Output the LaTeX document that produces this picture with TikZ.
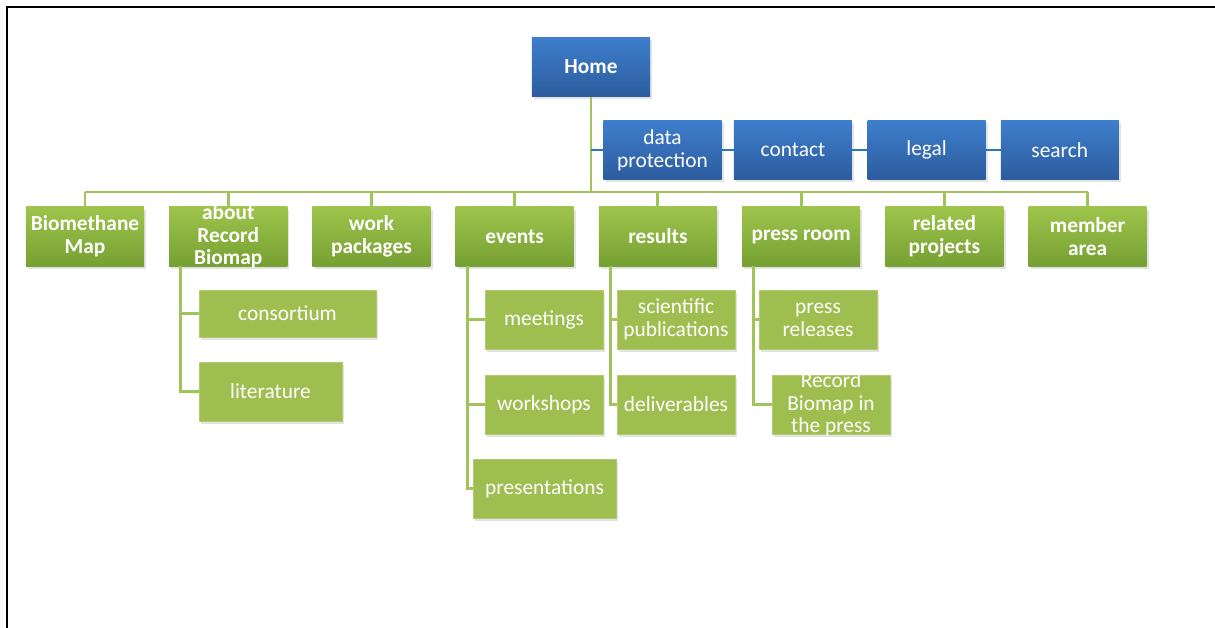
\documentclass[tikz,border=0pt]{standalone}
\usepackage{fontspec}
\setmainfont{Carlito}
\usepackage{tikz}
\usetikzlibrary{positioning,shadows}
\definecolor{blueTop}{RGB}{62,126,204}
\definecolor{blueBot}{RGB}{44,92,158}
\definecolor{greenTop}{RGB}{158,196,76}
\definecolor{greenBot}{RGB}{118,160,51}
\definecolor{childgreen}{RGB}{159,190,80}
\definecolor{linegreen}{RGB}{160,196,90}
\definecolor{lineblue}{RGB}{46,117,192}
\newcommand{\squeezed}[1]{\smash{\raisebox{-4.3pt}{\begin{tabular}{@{}c@{}}#1\end{tabular}}}}
\tikzstyle{box}=[align=center, inner sep=1pt, text=white, font=\fontsize{15.2}{16.3}\selectfont,
  minimum width=2.95cm, minimum height=1.475cm,
  drop shadow={opacity=0.22, shadow xshift=1.5pt, shadow yshift=-2pt}]
\tikzstyle{mainbox}=[box, top color=blueTop, bottom color=blueBot, font=\fontsize{15.2}{16.3}\selectfont\bfseries]
\tikzstyle{metabox}=[box, top color=blueTop, bottom color=blueBot]
\tikzstyle{sectionbox}=[box, top color=greenTop, bottom color=greenBot, font=\fontsize{15.2}{16.3}\selectfont\bfseries]
\tikzstyle{pagebox}=[box, fill=childgreen, draw=childgreen!80!white]
\tikzstyle{connect}=[line width=2.1pt, linegreen]
\tikzstyle{connect blue}=[line width=1.8pt, lineblue]

\begin{document}
\begin{tikzpicture}[
    x=0.025cm, y=-0.025cm,
    node distance=3.58cm,
    on grid]

\useasboundingbox (0,0) rectangle (1215,628);
\draw[line width=1.4pt] (7,628) -- (7,7) -- (1215,7);

\coordinate (bus) at (591,192);

\node[mainbox] (home) at (591,67) {Home};

\node[metabox] (dataprot) at (662.5,150) {data\\protection};
\node[metabox, right=3.26cm of dataprot] (contact) {contact};
\node[metabox, right=3.34cm of contact] (legal) {legal};
\node[metabox, right=3.33cm of legal] (search) {search};

\node[sectionbox] (biomap) at (85,236.5) {Biomethane\\Map};
\node[sectionbox, right=of biomap] (about) {\squeezed{about\\Record\\Biomap}};
\node[sectionbox, right=of about] (workpack) {work\\packages};
\node[sectionbox, right=of workpack] (events) {events};
\node[sectionbox, right=of events] (results) {results};
\node[sectionbox, right=of results] (pressroom) {press room};
\node[sectionbox, right=of pressroom] (related) {related\\projects};
\node[sectionbox, right=of related] (member) {member\\area};

\node[pagebox, minimum width=4.425cm, minimum height=1.175cm] (consort) at (287.5,313.5) {consortium};
\node[pagebox, minimum width=3.575cm] (lit) at (270.5,391.5) {literature};

\node[pagebox] (meet) at (544,319.5) {meetings};
\node[pagebox] (work) at (544,404.5) {workshops};
\node[pagebox, minimum width=3.575cm] (present) at (544.5,488.5) {presentations};

\node[pagebox] (scipub) at (676,319.5) {scientific\\publications};
\node[pagebox] (deliv) at (676,404.5) {deliverables};

\node[pagebox] (pressrel) at (818,319.5) {press\\releases};
\node[pagebox] (inpress) at (831,404.5) {\squeezed{Record\\Biomap in\\the press}};

\begin{scope}[connect]
    \draw (home.south) -- (bus);
    \draw (biomap.north |- bus) -- (member.north |- bus);
    \foreach \n in {biomap,about,workpack,events,results,pressroom,related,member}
        \draw (\n.north |- bus) -- (\n.north);

    \draw ([xshift=0.3cm]about.south west) |- (consort.west);
    \draw ([xshift=0.3cm]about.south west) |- (lit.west);
    \draw ([xshift=0.3cm]events.south west) |- (meet.west);
    \draw ([xshift=0.3cm]events.south west) |- (work.west);
    \draw ([xshift=0.3cm]events.south west) |- (present.west);
    \draw ([xshift=0.3cm]results.south west) |- (scipub.west);
    \draw ([xshift=0.3cm]results.south west) |- (deliv.west);
    \draw ([xshift=0.3cm]pressroom.south west) |- (pressrel.west);
    \draw ([xshift=0.3cm]pressroom.south west) |- (inpress.west);
\end{scope}

\begin{scope}[connect blue]
    \draw (home.south |- dataprot.west) -- (dataprot.west);
    \draw (dataprot.east) -- (contact.west);
    \draw (contact.east) -- (legal.west);
    \draw (legal.east) -- (search.west);
\end{scope}

\end{tikzpicture}
\end{document}
